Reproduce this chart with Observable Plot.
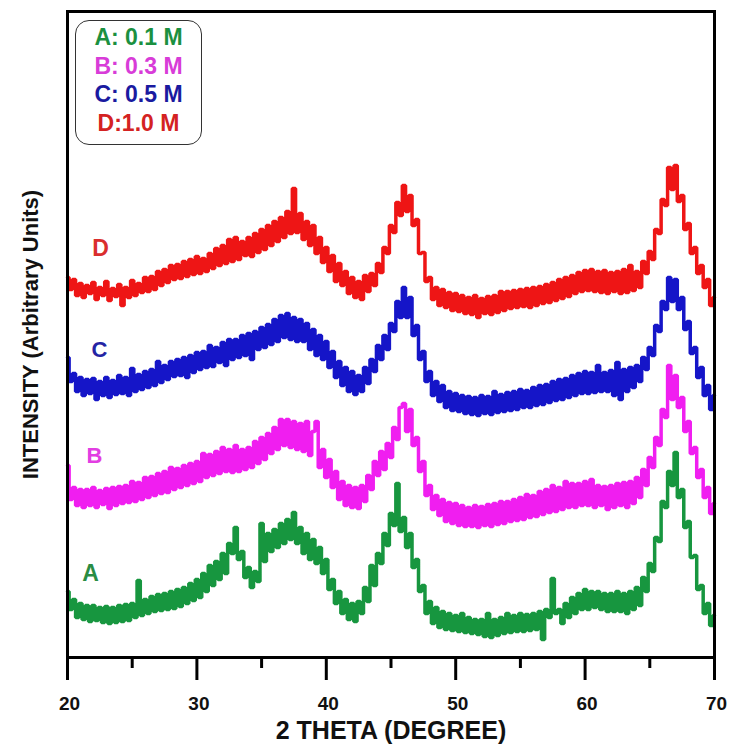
<!DOCTYPE html>
<html>
<head>
<meta charset="utf-8">
<script src="https://cdn.jsdelivr.net/npm/d3@7"></script>
<script src="https://cdn.jsdelivr.net/npm/@observablehq/plot@0.6"></script>
<style>
  html, body { margin: 0; padding: 0; background: #fff; }
  #wrap { position: relative; width: 729px; height: 746px; font-family: "Liberation Sans", Arial, sans-serif; }
  #legend { position: absolute; left: 75px; top: 20px; width: 127px; height: 125px; box-sizing: border-box;
    border: 1.5px solid #333; border-radius: 14px; background: #fff; text-align: center;
    font-weight: bold; font-size: 23px; line-height: 28.5px; padding-top: 2px; }
  g[aria-label="xticklabels"] text { letter-spacing: 4px; }
</style>
</head>
<body>
<div id="wrap"><div id="legend"></div></div>
<script>
// 2-theta grid: 20 to 70 degrees in 0.25 degree steps (201 points)
const thetaStart = 20, thetaStep = 0.25;

const seriesNames = ["A", "B", "C", "D"];
const legendLabels = ["A: 0.1 M", "B: 0.3 M", "C: 0.5 M", "D:1.0 M"];
const xTicks = [20, 30, 40, 50, 60, 70];
const xMinorTicks = [25, 35, 45, 55, 65];

// Intensities (arbitrary units, stacked offsets as drawn)
const intensityD = [
380,368,378,362,374,360,372,364,375,358,370,362,376,357,369,361,373,352,370,360,
377,362,374,365,380,366,381,368,386,372,388,375,392,378,393,379,396,381,398,383,
401,384,399,386,404,389,409,392,412,394,418,396,420,398,416,402,420,401,424,405,
428,408,432,412,436,416,440,420,446,424,469,425,444,418,436,412,432,404,420,395,
410,386,402,376,394,372,386,364,380,360,376,358,382,366,384,372,394,385,410,404,
432,425,455,442,472,446,462,432,438,404,405,376,380,358,370,352,368,350,365,347,
364,346,362,344,360,343,362,340,359,344,361,343,362,345,366,347,366,349,367,350,
368,351,369,350,370,352,371,354,373,355,375,357,378,359,380,361,382,364,385,366,
387,367,388,366,386,365,387,364,385,366,386,364,388,365,392,367,386,370,396,384,
406,398,428,424,458,452,490,468,492,456,462,428,434,404,410,384,392,370,378,352,
360];

const intensityC = [
300,276,284,266,280,262,278,264,279,258,276,262,280,260,277,263,282,264,280,262,
289,266,283,268,286,270,288,272,296,275,292,278,296,281,298,282,300,280,302,285,
305,288,306,290,312,291,310,295,315,292,318,298,318,300,322,302,324,298,326,308,
330,310,333,313,338,316,342,320,344,318,340,316,338,316,334,308,328,302,322,298,
316,290,306,280,296,272,290,266,286,263,282,266,290,274,298,286,312,298,322,308,
334,326,356,340,370,340,360,322,332,298,306,276,286,262,276,256,272,250,266,247,
264,246,262,244,261,243,260,242,262,244,261,243,266,245,263,246,265,247,266,248,
268,250,267,250,270,252,272,253,273,255,276,257,278,258,279,260,282,262,284,264,
286,264,285,265,292,266,285,266,287,262,295,258,288,266,290,270,292,276,300,288,
310,302,332,326,356,348,380,356,378,348,360,328,336,304,310,280,290,262,272,248,
262];

const intensityB = [
192,158,170,152,168,150,168,152,170,150,167,153,169,149,170,152,171,154,172,155,
176,156,175,158,180,160,181,162,184,164,186,165,190,168,189,170,192,172,194,174,
196,176,204,180,203,182,206,184,210,186,208,185,212,186,208,188,210,190,216,194,
220,198,224,204,230,208,238,212,238,210,236,208,234,206,236,202,226,236,190,208,
180,198,170,186,158,176,152,172,150,170,149,172,156,182,168,196,182,206,188,214,
200,230,218,250,254,226,248,212,220,186,196,162,172,148,162,142,158,136,155,134,
154,132,152,131,150,131,152,130,151,132,153,131,154,133,156,134,156,136,158,137,
160,138,163,140,162,141,166,143,168,145,172,146,170,148,176,150,174,150,174,152,
176,152,178,150,172,152,171,148,172,150,174,152,175,150,176,154,180,160,188,172,
200,190,220,212,248,240,292,258,282,250,260,226,236,204,210,180,188,160,170,144,
154];

const intensityA = [
66,48,58,40,54,38,52,36,52,37,50,35,51,34,50,35,52,36,53,37,
54,40,77,42,58,44,61,46,63,47,64,48,66,49,68,51,70,54,74,57,
78,60,84,66,92,72,96,78,104,84,114,104,130,98,106,80,90,70,86,76,
134,96,124,106,128,110,134,114,138,118,145,114,130,104,124,98,118,94,110,84,
98,68,78,54,66,44,58,38,54,36,56,44,70,56,92,72,104,94,124,112,
144,132,174,126,140,110,124,90,98,66,72,44,56,34,50,30,46,28,44,27,
42,26,44,25,40,24,38,23,38,21,44,20,38,22,40,24,44,25,42,26,
44,26,43,27,44,28,46,18,48,40,79,44,48,34,54,40,60,44,64,48,
68,48,66,50,66,48,64,46,64,46,66,46,64,44,66,48,70,52,80,66,
94,86,120,116,156,150,186,172,205,160,168,130,136,100,102,68,72,44,54,32,
42];

const seriesValues = [intensityA, intensityB, intensityC, intensityD];
const lineColors = ["#17963f", "#f01ef0", "#1515c8", "#ee1515"];
const legendColors = ["#1b9040", "#d83cd8", "#1a1aa0", "#d42222"];
const labelColors = ["#2a8c44", "#e23ee2", "#2424a4", "#da2e2e"];

const data = [];
seriesNames.forEach((name, s) => {
  seriesValues[s].forEach((v, i) => {
    data.push({series: name, theta: thetaStart + i * thetaStep, intensity: v});
  });
});

const font = '"Liberation Sans", Arial, sans-serif';
const lbl = {frameAnchor: "top-left", textAnchor: "middle", lineAnchor: "middle", fontWeight: "bold"};

const chart = Plot.plot({
  width: 729,
  height: 746,
  marginLeft: 67,
  marginRight: 15,
  marginTop: 11,
  marginBottom: 89,
  style: {fontFamily: font, background: "#fff"},
  x: {domain: [20, 70], axis: null},
  y: {domain: [0, 646], axis: null},
  color: {domain: seriesNames, range: lineColors},
  marks: [
    Plot.line(data, {x: "theta", y: "intensity", z: "series", stroke: "series", strokeWidth: 3.5, curve: "step", strokeLinejoin: "miter"}),
    Plot.frame({stroke: "#000", strokeWidth: 3}),
    Plot.axisX({ticks: xTicks, tickSize: 23, strokeWidth: 3, tickFormat: () => "", label: null}),
    Plot.axisX({ticks: xMinorTicks, tickSize: 11, strokeWidth: 3, tickFormat: () => "", label: null}),
    Plot.text(xTicks, {x: d => d, text: d => String(d), frameAnchor: "bottom", lineAnchor: "middle", dy: 46, dx: 2,
      fontSize: 19, fontWeight: "bold", fill: "#111", ariaLabel: "xticklabels"}),
    Plot.text(["2 THETA (DEGREE)"], {frameAnchor: "bottom", lineAnchor: "middle", textAnchor: "middle", dy: 73, fontSize: 25, fontWeight: "bold", fill: "#111"}),
    Plot.text(["INTENSITY (Arbitrary Units)"], {frameAnchor: "left", textAnchor: "middle", lineAnchor: "middle", dx: -37, rotate: -90, fontSize: 22, fontWeight: "bold", fill: "#111"}),
    Plot.text([seriesNames[3]], {...lbl, dx: 33, dy: 237, fontSize: 23, fill: labelColors[3]}),
    Plot.text([seriesNames[2]], {...lbl, dx: 32, dy: 338, fontSize: 22, fill: labelColors[2]}),
    Plot.text([seriesNames[1]], {...lbl, dx: 27, dy: 444, fontSize: 22, fill: labelColors[1]}),
    Plot.text([seriesNames[0]], {...lbl, dx: 23, dy: 562, fontSize: 23, fill: labelColors[0]})
  ]
});

const wrap = document.getElementById("wrap");
wrap.insertBefore(chart, wrap.firstChild);
const legend = document.getElementById("legend");
legendLabels.forEach((t, i) => {
  const d = document.createElement("div");
  d.textContent = t;
  d.style.color = legendColors[i];
  legend.appendChild(d);
});
</script>
</body>
</html>
